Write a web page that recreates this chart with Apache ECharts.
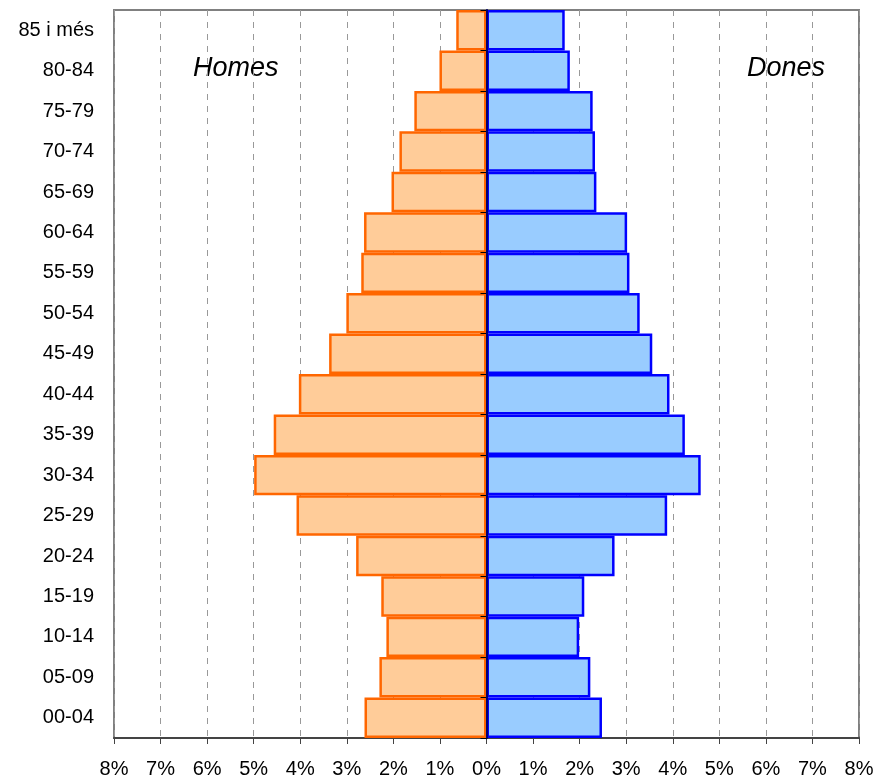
<!DOCTYPE html>
<html>
<head>
<meta charset="utf-8">
<script src="https://cdn.jsdelivr.net/npm/echarts@6/dist/echarts.min.js"></script>
<style>
html,body{margin:0;padding:0;background:#fff;}
#chart{width:882px;height:780px;}
</style>
</head>
<body>
<div id="chart"></div>
<script>
// Categories listed bottom to top
var ageGroups = ['00-04','05-09','10-14','15-19','20-24','25-29','30-34','35-39','40-44','45-49','50-54','55-59','60-64','65-69','70-74','75-79','80-84','85 i més'];
// Percent of population
var homes = [2.62, 2.30, 2.15, 2.26, 2.80, 4.08, 4.99, 4.57, 4.03, 3.38, 3.01, 2.69, 2.63, 2.04, 1.87, 1.55, 1.01, 0.65];
var dones = [2.48, 2.23, 1.99, 2.10, 2.75, 3.88, 4.60, 4.26, 3.93, 3.56, 3.29, 3.07, 3.02, 2.36, 2.33, 2.28, 1.79, 1.68];
var xTickMin = -8, xTickMax = 8, xTickStep = 1;
var leftTitle = 'Homes', rightTitle = 'Dones';

var chart = echarts.init(document.getElementById('chart'), null, {renderer: 'canvas'});
var font = 'Liberation Sans, Arial, sans-serif';
chart.setOption({
  animation: false,
  backgroundColor: '#ffffff',
  grid: {left: 114, right: 23, top: 10, bottom: 42, show: true, borderColor: '#808080', borderWidth: 2, backgroundColor: 'transparent'},
  xAxis: {
    type: 'value', min: xTickMin, max: xTickMax, interval: xTickStep,
    axisLine: {show: true, onZero: false, lineStyle: {color: '#444', width: 2}},
    axisTick: {show: true, length: 6, lineStyle: {color: '#444', width: 1}},
    axisLabel: {margin: 21, fontSize: 20, color: '#000', fontFamily: font,
      formatter: function (v) { return Math.abs(v) + '%'; }},
    splitLine: {show: true, lineStyle: {color: '#999', type: [6, 6], width: 1}}
  },
  yAxis: [{
    type: 'category', data: ageGroups, position: 'left',
    axisLine: {show: false, onZero: false},
    axisTick: {show: false},
    axisLabel: {margin: 20, fontSize: 20, color: '#000', fontFamily: font},
    splitLine: {show: false}
  }, {
    type: 'category', data: ageGroups, position: 'left', z: 10,
    axisLine: {show: true, onZero: true, lineStyle: {color: '#000060', width: 2}},
    axisTick: {show: true, length: 6, lineStyle: {color: '#000', width: 1}},
    axisLabel: {show: false},
    splitLine: {show: false}
  }],
  series: [{
    name: leftTitle, type: 'bar', stack: 'pop', yAxisIndex: 0,
    data: homes.map(function (v) { return -v; }),
    barCategoryGap: '0%', barWidth: '100%',
    itemStyle: {color: '#FFCC99', borderColor: '#FF6600', borderWidth: 2.5},
    z: 2
  }, {
    name: rightTitle, type: 'bar', stack: 'pop', yAxisIndex: 0,
    data: dones,
    barCategoryGap: '0%', barWidth: '100%',
    itemStyle: {color: '#99CCFF', borderColor: '#0000FF', borderWidth: 2.5},
    z: 2,
    markLine: {
      silent: true, symbol: ['none', 'none'], z: 20,
      label: {show: false},
      lineStyle: {color: '#000070', width: 2, type: 'solid'},
      data: [{xAxis: 0}]
    }
  }],
  graphic: [
    {type: 'text', left: 193, top: 55, style: {text: leftTitle, font: 'italic 27px ' + font, fill: '#000'}},
    {type: 'text', left: 747, top: 55, style: {text: rightTitle, font: 'italic 27px ' + font, fill: '#000'}}
  ]
});
</script>
</body>
</html>
